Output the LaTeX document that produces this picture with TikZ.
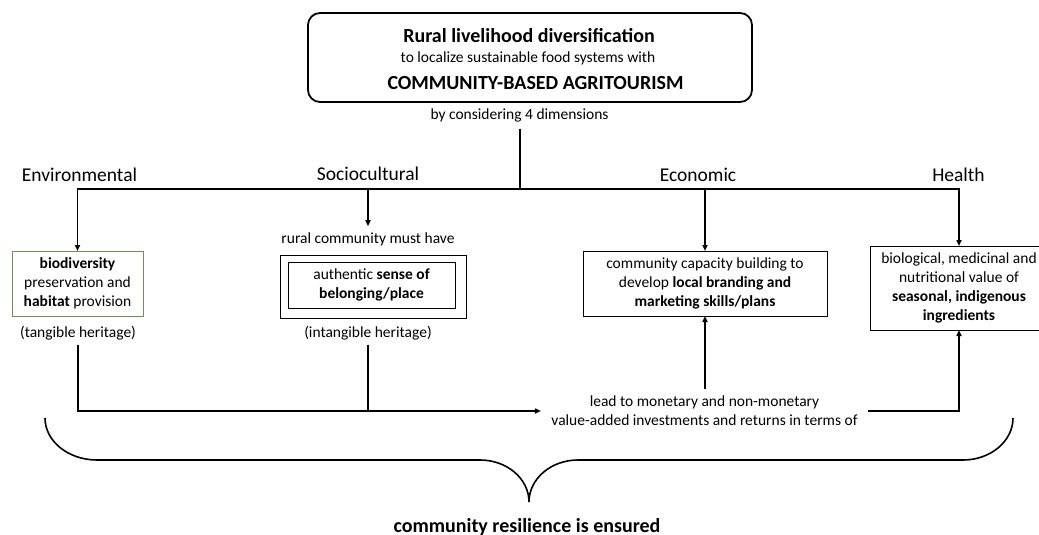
\documentclass[tikz,border=0pt]{standalone}
\usepackage{fontspec}
\setmainfont{Carlito}
\usetikzlibrary{arrows.meta}
\definecolor{boxgreen}{RGB}{112,146,80}
\begin{document}
\begin{tikzpicture}[x=1pt,y=-1pt,
  line width=1.6pt,
  every node/.style={inner sep=0pt, outer sep=0pt, text=black},
  small/.style={font=\fontsize{15.5}{19}\selectfont},
  headfont/.style={font=\fontsize{20}{24}\selectfont\bfseries},
  dimlabel/.style={font=\fontsize{19.5}{23}\selectfont, anchor=base},
  card/.style={draw, line width=1pt, align=center, small},
  arr/.style={-{Triangle[length=6pt,width=5pt]}},
]
\useasboundingbox (0,0) rectangle (1039,535);

% heading box
\node[draw, line width=1.8pt, rounded corners=12pt,
      minimum width=444pt, minimum height=89pt] (topbox) at (530,57.5) {};
\node[headfont, anchor=base] (title) at (529,43) {Rural livelihood diversification};
\node[small, anchor=base] (sub) at (528,63) {to localize sustainable food systems with};
\node[headfont, anchor=base] (cba) at (535.5,89) {COMMUNITY-BASED AGRITOURISM};
\node[small, anchor=base, inner ysep=7pt] (dims) at (519.5,119) {by considering 4 dimensions};

% the four dimensions
\node[dimlabel] (lenv) at (79.5,181) {Environmental};
\node[dimlabel] (lsoc) at (368,180) {Sociocultural};
\node[dimlabel] (leco) at (698,181) {Economic};
\node[dimlabel] (lhea) at (958.5,181) {Health};

% boxes
\node[card, draw=boxgreen, minimum width=131pt, minimum height=65pt] (env) at (77.5,283.5)
  {\textbf{biodiversity}\\preservation and\\\textbf{habitat} provision};
\node[small, anchor=base, inner ysep=6pt] (rural) at (368,243) {rural community must have};
\node[draw, line width=1pt, minimum width=186pt, minimum height=63pt] (sociobox) at (373,286.5) {};
\node[card, minimum width=167pt, minimum height=46pt] (socio) at (371.5,285)
  {authentic \textbf{sense of}\\\textbf{belonging/place}};
\node[card, minimum width=244pt, minimum height=65pt] (econ) at (705,283.5)
  {community capacity building to\\develop \textbf{local branding and}\\\textbf{marketing skills/plans}};
\node[card, minimum width=178pt, minimum height=84pt] (health) at (959,288)
  {biological, medicinal and\\nutritional value of\\\textbf{seasonal, indigenous}\\\textbf{ingredients}};

\node[small, anchor=base, inner ysep=5pt] (tang) at (78,337) {(tangible heritage)};
\node[small, anchor=base, inner ysep=5pt] (intang) at (368,337) {(intangible heritage)};

\node[small, align=center, inner xsep=10.5pt, inner ysep=7pt] (lead) at (704.5,411)
  {lead to monetary and non-monetary\\value-added investments and returns in terms of};

% distribution from the heading
\coordinate (hub) at (520,189);
\draw (dims.south -| hub) -- (hub);
\draw[arr] (hub) -| (env.north);
\draw[arr] (hub) -| (rural.north);
\draw[arr] (hub) -| (econ.north);
\draw[arr] (hub) -| (health.north);

% returns
\draw[arr] (tang.south) |- (lead.west);
\draw (intang.south) -- (intang.south |- lead.west);
\draw[arr] (econ.south |- lead.north) -- (econ.south);
\draw[arr] (lead.east) -| (health.south);

% brace
\coordinate (bl) at (45,418);
\coordinate (br) at (1013,418);
\coordinate (tip) at (529,502);
\draw (bl) .. controls (45,441.2) and (68.3,460) .. (97,460) -- (480,460)
      .. controls (507,460) and (529,478.8) .. (tip)
      .. controls (529,478.8) and (551,460) .. (578,460) -- (963,460)
      .. controls (990.6,460) and (1013,441.2) .. (br);

\node[font=\fontsize{20}{24}\selectfont\bfseries, anchor=base] (result) at (527,532)
  {community resilience is ensured};
\end{tikzpicture}
\end{document}
